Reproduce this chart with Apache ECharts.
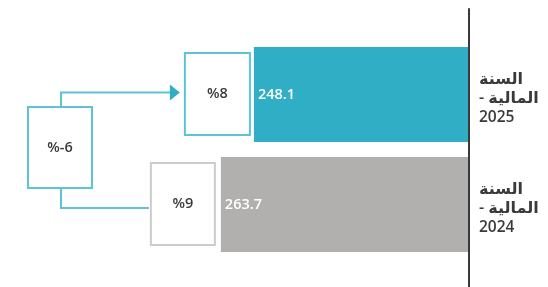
<!DOCTYPE html>
<html>
<head>
<meta charset="utf-8">
<script src="https://cdn.jsdelivr.net/npm/echarts@6/dist/echarts.min.js"></script>
<style>html,body{margin:0;padding:0;background:#fff}#c{width:548px;height:287px}</style>
</head>
<body>
<div id="c"></div>
<script>
// Data
const categories = ['السنة المالية - 2025', 'السنة المالية - 2024'];
const values = [248.1, 263.7];
const growthLabels = ['%8', '%9'];
const changeLabel = '%-6';

const teal = '#30aec5';
const grey = '#b1b0ae';
const tealLine = '#5ec3d3';
const greyLine = '#cccccc';
const textDark = '#3a3a3a';
const FONT = '"Open Sans", "DejaVu Sans", sans-serif';

const chart = echarts.init(document.getElementById('c'), null, {renderer: 'canvas'});

function catLabel(v) {
  // "السنة المالية - 2025" -> three lines
  const m = v.match(/^(\S+)\s+(\S+)\s+-\s+(\S+)$/);
  if (!m) return v;
  return '{ar|' + m[1] + '}\n{ar|' + m[2] + ' -\u200F}\n{num|' + m[3] + '}';
}

const option = {
  animation: false,
  grid: [
    {left: 0, right: 80, top: 39.5, bottom: 27.5},
    {left: 0, right: 79, top: 9, bottom: 0}
  ],
  xAxis: [
    {type: 'value', gridIndex: 0, inverse: true, min: 147, max: 368, show: false},
    {type: 'value', gridIndex: 1, show: false}
  ],
  yAxis: [
    {
      type: 'category', gridIndex: 0, position: 'right', inverse: true,
      data: categories,
      axisLine: {show: false}, axisTick: {show: false},
      axisLabel: {
        margin: 11, align: 'left', color: textDark,
        fontFamily: FONT, fontSize: 14, fontWeight: 600, lineHeight: 19.5,
        padding: [8, 0, 0, 0],
        formatter: catLabel,
        rich: {
          ar: {fontFamily: FONT, fontSize: 16, fontWeight: 600, color: textDark, lineHeight: 19.5},
          num: {fontFamily: FONT, fontSize: 15.5, fontWeight: 600, color: textDark, lineHeight: 19.5}
        }
      }
    },
    {
      type: 'value', gridIndex: 1, xAxisIndex: 1, position: 'right',
      axisLine: {show: true, onZero: false, lineStyle: {color: textDark, width: 2}},
      axisTick: {show: false}, axisLabel: {show: false}, splitLine: {show: false}
    }
  ],
  series: [{
    type: 'bar', xAxisIndex: 0, yAxisIndex: 0,
    barWidth: 95,
    data: values.map((v, i) => ({value: v, itemStyle: {color: i === 0 ? teal : grey}})),
    label: {
      show: true, position: 'insideLeft', distance: 4,
      color: '#ffffff', fontFamily: FONT, fontSize: 14.5, fontWeight: 600,
      formatter: p => p.value.toFixed(1)
    }
  }]
};
chart.setOption(option);

// Annotation boxes and connectors, positioned from the bar ends
const pTop = chart.convertToPixel({gridIndex: 0}, [values[0], 0]);
const pBot = chart.convertToPixel({gridIndex: 0}, [values[1], 1]);

function box(right, cy, w, h, color, text) {
  return [
    {type: 'rect', shape: {x: right - w, y: cy - h / 2, width: w, height: h},
     style: {fill: '#fff', stroke: color, lineWidth: 2}, z: 10},
    {type: 'text', x: right - w / 2, y: cy, z: 11,
     style: {text: text, fill: textDark, font: '600 14.5px ' + FONT, align: 'center', verticalAlign: 'middle'}}
  ];
}

const topBox = {right: pTop[0] - 4, cy: pTop[1] - 0.5, w: 65, h: 82};
const botBox = {right: pBot[0] - 6, cy: pBot[1] - 0.5, w: 64, h: 82};
const chgBox = {cx: 60, cy: 147.5, w: 64, h: 81};

const topLineY = pTop[1] - 2;
const botLineY = pBot[1] + 3.5;
const arrowTip = topBox.right - topBox.w - 5;

const graphics = []
  .concat(box(topBox.right, topBox.cy, topBox.w, topBox.h, tealLine, growthLabels[0]))
  .concat(box(botBox.right, botBox.cy, botBox.w, botBox.h, greyLine, growthLabels[1]))
  .concat(box(chgBox.cx + chgBox.w / 2, chgBox.cy, chgBox.w, chgBox.h, tealLine, changeLabel))
  .concat([
    {type: 'polyline', z: 9, shape: {points: [[chgBox.cx + 1, chgBox.cy - chgBox.h / 2], [chgBox.cx + 1, topLineY], [arrowTip - 8, topLineY]]},
     style: {stroke: tealLine, lineWidth: 2, fill: null}},
    {type: 'polygon', z: 9, shape: {points: [[arrowTip - 10, topLineY - 8], [arrowTip, topLineY], [arrowTip - 10, topLineY + 8]]},
     style: {fill: teal}},
    {type: 'polyline', z: 9, shape: {points: [[chgBox.cx + 1, chgBox.cy + chgBox.h / 2], [chgBox.cx + 1, botLineY], [botBox.right - botBox.w - 2, botLineY]]},
     style: {stroke: tealLine, lineWidth: 2, fill: null}}
  ]);

chart.setOption({graphic: graphics});
</script>
</body>
</html>
